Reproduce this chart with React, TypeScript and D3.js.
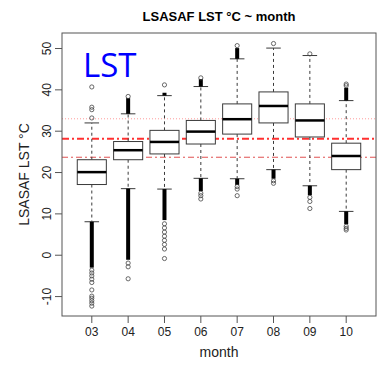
import * as d3 from "d3";

const months = ["03", "04", "05", "06", "07", "08", "09", "10"];
const q1 = [17.1, 23.1, 24.5, 26.9, 29.3, 32.0, 28.6, 20.7];
const medians = [20.1, 25.4, 27.4, 29.9, 32.9, 36.1, 32.6, 24.0];
const q3 = [23.1, 27.5, 30.2, 32.6, 36.6, 39.5, 36.6, 27.1];
const whiskerLow = [8.1, 16.1, 16.0, 18.6, 18.5, 20.7, 16.8, 10.6];
const whiskerHigh = [32.0, 34.2, 38.6, 40.8, 47.5, 50.1, 48.3, 37.4];

// stretches where outlier circles overlap into a solid column [from, to]
const denseLow: [number, number][] = [
  [8.1, -3.0], [16.1, -1.1], [16.0, 8.5], [18.6, 15.5],
  [18.5, 17.0], [20.7, 18.5], [16.8, 14.5], [10.6, 7.5],
];
const denseHigh: ([number, number] | null)[] = [
  null, [34.2, 38.0], [38.6, 39.3], [40.8, 42.6],
  [47.5, 50.1], null, null, [37.4, 40.5],
];
// single circles that can be told apart
const outliers: number[][] = [
  [33.2, 35.2, 35.8, 40.7, -3.6, -4.3, -5.0, -5.8, -6.6, -8.4, -9.9, -10.4, -11.0, -11.6, -12.3],
  [38.4, -1.9, -2.8, -5.7],
  [41.2, 7.6, 6.6, 5.6, 4.6, 3.6, 2.6, 1.5, -0.8],
  [42.9, 15.0, 14.4, 13.6],
  [50.7, 16.6, 16.0, 14.4],
  [51.2, 18.0, 17.4],
  [48.7, 14.0, 13.0, 11.3],
  [41.0, 41.4, 7.0, 6.5, 6.1],
];
const yTicks = [-10, 0, 10, 20, 30, 40, 50];
const refLines = [
  { value: 33.0, color: "#ff9b9b", width: 1, dash: "1,2" },
  { value: 28.2, color: "#ff3030", width: 2, dash: "7,3,2,3" },
  { value: 23.7, color: "#e05050", width: 1, dash: "6,3,2,3" },
];

const W = 381;
const H = 377;
const margin = { top: 33, right: 5, bottom: 61, left: 62 };

export default function App() {
  const x = d3.scaleLinear().domain([0.18, 8.82]).range([margin.left, W - margin.right]);
  const y = d3.scaleLinear().domain([-14.7, 53.75]).range([H - margin.bottom, margin.top]);
  const bw = (x(1) - x(0)) * 0.8;
  const font = "'Liberation Sans', Arial, sans-serif";
  const boxStroke = "#3a3a3a";

  return (
    <svg
      width={W}
      height={H}
      style={{ position: "absolute", left: 0, top: 0, background: "#fff" }}
      fontFamily={font}
    >
      <text x={219} y={21} textAnchor="middle" fontSize={13} fontWeight="bold" fill="#000">
        LSASAF LST °C ~ month
      </text>

      {refLines.map((r, i) => (
        <line
          key={i}
          x1={x(0.18)}
          x2={x(8.82)}
          y1={y(r.value)}
          y2={y(r.value)}
          stroke={r.color}
          strokeWidth={r.width}
          strokeDasharray={r.dash}
        />
      ))}

      {months.map((m, i) => {
        const cx = x(i + 1);
        const lo = denseLow[i];
        const hi = denseHigh[i];
        return (
          <g key={m}>
            <line x1={cx} x2={cx} y1={y(q3[i])} y2={y(whiskerHigh[i])} stroke={boxStroke} strokeDasharray="3,3" />
            <line x1={cx} x2={cx} y1={y(q1[i])} y2={y(whiskerLow[i])} stroke={boxStroke} strokeDasharray="3,3" />
            <line x1={cx - bw / 4} x2={cx + bw / 4} y1={y(whiskerHigh[i])} y2={y(whiskerHigh[i])} stroke={boxStroke} />
            <line x1={cx - bw / 4} x2={cx + bw / 4} y1={y(whiskerLow[i])} y2={y(whiskerLow[i])} stroke={boxStroke} />
            <rect
              x={cx - bw / 2}
              width={bw}
              y={y(q3[i])}
              height={y(q1[i]) - y(q3[i])}
              fill="#fff"
              stroke={boxStroke}
            />
            <line x1={cx - bw / 2} x2={cx + bw / 2} y1={y(medians[i])} y2={y(medians[i])} stroke="#000" strokeWidth={2.5} />
            <line x1={cx} x2={cx} y1={y(lo[0])} y2={y(lo[1])} stroke="#000" strokeWidth={4} />
            {hi && <line x1={cx} x2={cx} y1={y(hi[0])} y2={y(hi[1])} stroke="#000" strokeWidth={4} />}
            {outliers[i].map((v, j) => (
              <circle key={j} cx={cx} cy={y(v)} r={2.1} fill="none" stroke="#444" strokeWidth={0.8} />
            ))}
          </g>
        );
      })}

      <text x={83} y={77} fontSize={33} fill="#0000ff" fontFamily="'Open Sans', 'Noto Sans', sans-serif">
        LST
      </text>

      <rect
        x={margin.left}
        y={margin.top}
        width={W - margin.left - margin.right}
        height={H - margin.top - margin.bottom}
        fill="none"
        stroke="#555"
      />

      {yTicks.map((t) => (
        <g key={t}>
          <line x1={margin.left - 7} x2={margin.left} y1={y(t)} y2={y(t)} stroke="#555" />
          <text
            transform={`translate(51,${y(t)}) rotate(-90)`}
            textAnchor="middle"
            fontSize={12}
            fill="#222"
          >
            {t}
          </text>
        </g>
      ))}

      {months.map((m, i) => (
        <g key={m}>
          <line x1={x(i + 1)} x2={x(i + 1)} y1={H - margin.bottom} y2={H - margin.bottom + 7} stroke="#555" />
          <text x={x(i + 1)} y={336} textAnchor="middle" fontSize={12} fill="#222">
            {m}
          </text>
        </g>
      ))}

      <text x={219} y={357} textAnchor="middle" fontSize={14} fill="#222">
        month
      </text>
      <text
        transform={`translate(29,${(margin.top + H - margin.bottom) / 2}) rotate(-90)`}
        textAnchor="middle"
        fontSize={14}
        fill="#222"
      >
        LSASAF LST °C
      </text>
    </svg>
  );
}
